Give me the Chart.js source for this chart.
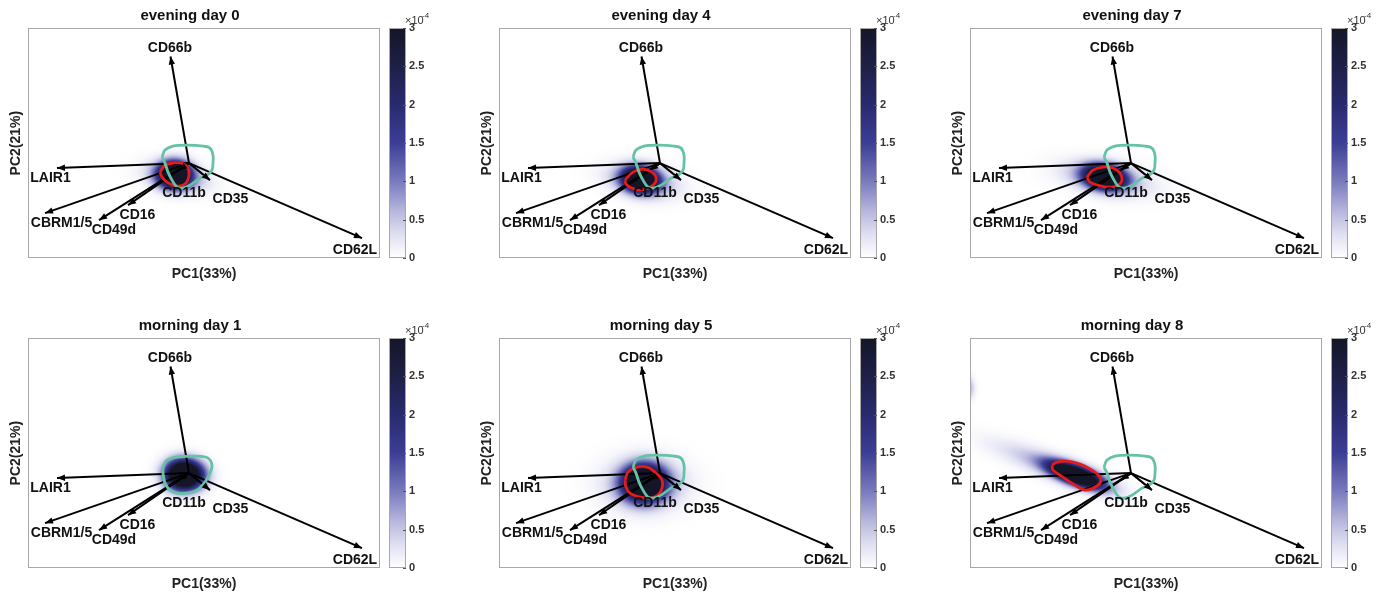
<!DOCTYPE html>
<html>
<head>
<meta charset="utf-8">
<script src="https://cdn.jsdelivr.net/npm/chart.js@4.4.0/dist/chart.umd.min.js"></script>
<style>
  body { margin: 0; background: #fff; }
  #wrap { position: relative; width: 1392px; height: 594px; overflow: hidden; }
  #wrap canvas { position: absolute; }
</style>
</head>
<body>
<div id="wrap"></div>
<script>
const titles = ['evening day 0', 'evening day 4', 'evening day 7', 'morning day 1', 'morning day 5', 'morning day 8'];

// PCA loadings (arrow tips) and where their names sit
const markers = ['CD66b', 'LAIR1', 'CBRM1/5', 'CD49d', 'CD16', 'CD11b', 'CD35', 'CD62L'];
const loadX = [-0.37, -2.64, -2.88, -1.80, -1.22, -0.20, 0.42, 3.46];
const loadY = [2.13, -0.10, -1.00, -1.14, -0.84, -0.14, -0.34, -1.50];
const labelX = [-0.38, -2.77, -2.55, -1.50, -1.03, -0.10, 0.83, 3.32];
const labelY = [2.30, -0.30, -1.20, -1.34, -1.04, -0.60, -0.72, -1.74];

// reference population contour (green)
const greenRef = [[-0.54, 0.12], [-0.48, 0.26], [-0.32, 0.34], [-0.02, 0.36], [0.28, 0.34], [0.42, 0.30], [0.48, 0.16],
  [0.48, 0], [0.46, -0.14], [0.36, -0.24], [0.22, -0.30], [0.02, -0.44], [-0.14, -0.50], [-0.24, -0.48],
  [-0.34, -0.34], [-0.42, -0.18], [-0.48, 0]];
const greenDay1 = [[-0.52, 0.12], [-0.44, 0.26], [-0.24, 0.32], [0.16, 0.34], [0.38, 0.30], [0.46, 0.16], [0.42, 0],
  [0.32, -0.18], [0.16, -0.34], [-0.04, -0.40], [-0.24, -0.40], [-0.38, -0.34], [-0.48, -0.20], [-0.52, 0]];

// sample contour (red) per panel
const redEve0 = [[-0.58, -0.18], [-0.48, -0.04], [-0.32, 0], [-0.14, 0], [-0.02, -0.10], [0, -0.24], [-0.06, -0.40],
  [-0.18, -0.46], [-0.32, -0.44], [-0.44, -0.38], [-0.54, -0.28]];
const redEve4 = [[-0.70, -0.34], [-0.54, -0.18], [-0.34, -0.12], [-0.16, -0.18], [-0.08, -0.28], [-0.10, -0.40],
  [-0.24, -0.50], [-0.44, -0.54], [-0.60, -0.48], [-0.68, -0.42]];
const redEve7 = [[-0.88, -0.28], [-0.76, -0.14], [-0.56, -0.08], [-0.36, -0.10], [-0.22, -0.20], [-0.18, -0.34],
  [-0.26, -0.44], [-0.46, -0.48], [-0.66, -0.44], [-0.82, -0.38]];
const redMor1 = [];
const redMor5 = [[-0.70, -0.14], [-0.64, 0.02], [-0.46, 0.12], [-0.26, 0.12], [-0.10, 0.02], [0.04, -0.14], [0.04, -0.30],
  [-0.04, -0.44], [-0.20, -0.50], [-0.40, -0.48], [-0.60, -0.40], [-0.68, -0.28]];
const redMor8 = [[-1.58, 0.16], [-1.48, 0.22], [-1.28, 0.24], [-1.02, 0.18], [-0.78, 0.06], [-0.62, -0.08], [-0.62, -0.20],
  [-0.76, -0.30], [-0.92, -0.34], [-1.12, -0.24], [-1.36, -0.08], [-1.56, 0.06]];

// density components: [cx, cy, sx, sy, angleDeg, peak (x1e-4)]
const densEve0 = [[-0.29, -0.23, 0.21, 0.17, 0, 5], [-0.25, -0.28, 0.40, 0.18, -10, 0.9]];
const densEve4 = [[-0.39, -0.33, 0.23, 0.16, -10, 5], [-0.35, -0.36, 0.45, 0.20, -10, 0.9]];
const densEve7 = [[-0.53, -0.28, 0.26, 0.15, -10, 5], [-0.50, -0.30, 0.55, 0.20, -10, 0.9]];
const densMor1 = [[-0.14, -0.03, 0.22, 0.19, 0, 5], [0.06, -0.05, 0.22, 0.18, 0, 1.6]];
const densMor5 = [[-0.32, -0.20, 0.27, 0.23, 0, 5], [-0.30, -0.22, 0.50, 0.32, 0, 0.9]];
const densMor8 = [[-1.10, -0.04, 0.38, 0.12, -20, 5], [-1.60, 0.15, 0.80, 0.16, -20, 0.6], [-3.25, 1.70, 0.08, 0.14, 0, 0.7]];

const redSets = [redEve0, redEve4, redEve7, redMor1, redMor5, redMor8];
const greenSets = [greenRef, greenRef, greenRef, greenDay1, greenRef, greenRef];
const densSets = [densEve0, densEve4, densEve7, densMor1, densMor5, densMor8];

const cbTicksMax = 3;

const FONT = '"Liberation Sans", Arial, Helvetica, sans-serif';
const cmapStops = [[0, 255, 255, 255], [0.1, 224, 224, 242], [0.2, 184, 184, 222], [0.33, 122, 124, 190],
  [0.5, 60, 62, 150], [0.67, 40, 42, 110], [0.83, 30, 32, 72], [1, 20, 22, 40]];

function cmap(v) {
  const t = Math.max(0, Math.min(1, v / cbTicksMax));
  for (let i = 1; i < cmapStops.length; i++) {
    const a = cmapStops[i - 1], b = cmapStops[i];
    if (t <= b[0]) {
      const f = (t - a[0]) / (b[0] - a[0]);
      return [a[1] + f * (b[1] - a[1]), a[2] + f * (b[2] - a[2]), a[3] + f * (b[3] - a[3])];
    }
  }
  return cmapStops[cmapStops.length - 1].slice(1);
}

function density(comps, x, y) {
  let s = 0;
  comps.forEach(([cx, cy, sx, sy, ang, amp]) => {
    const th = ang * Math.PI / 180;
    const dx = x - cx, dy = y - cy;
    const u = dx * Math.cos(th) + dy * Math.sin(th);
    const v = -dx * Math.sin(th) + dy * Math.cos(th);
    s += amp * Math.exp(-0.5 * (u * u / (sx * sx) + v * v / (sy * sy)));
  });
  return s;
}

const densityPlugin = {
  id: 'density',
  beforeDatasetsDraw(chart) {
    const comps = chart.options.plugins.density.comps;
    const { left, top, right, bottom } = chart.chartArea;
    const l = Math.round(left), t = Math.round(top);
    const w = Math.round(right) - l, h = Math.round(bottom) - t;
    const img = chart.ctx.createImageData(w, h);
    const xs = chart.scales.x, ys = chart.scales.y;
    for (let j = 0; j < h; j++) {
      const yv = ys.getValueForPixel(t + j + 0.5);
      for (let i = 0; i < w; i++) {
        const xv = xs.getValueForPixel(l + i + 0.5);
        const c = cmap(density(comps, xv, yv));
        const k = (j * w + i) * 4;
        img.data[k] = c[0]; img.data[k + 1] = c[1]; img.data[k + 2] = c[2]; img.data[k + 3] = 255;
      }
    }
    chart.ctx.putImageData(img, l, t);
  }
};

const biplotPlugin = {
  id: 'biplot',
  afterDatasetsDraw(chart) {
    const ctx = chart.ctx, xs = chart.scales.x, ys = chart.scales.y;
    const ox = xs.getPixelForValue(0), oy = ys.getPixelForValue(0);
    ctx.save();
    ctx.fillStyle = '#000';
    markers.forEach((m, i) => {
      const px = xs.getPixelForValue(loadX[i]), py = ys.getPixelForValue(loadY[i]);
      const a = Math.atan2(py - oy, px - ox);
      const len = 8, hw = 3.2;
      ctx.beginPath();
      ctx.moveTo(px, py);
      ctx.lineTo(px - len * Math.cos(a) + hw * Math.sin(a), py - len * Math.sin(a) - hw * Math.cos(a));
      ctx.lineTo(px - len * Math.cos(a) - hw * Math.sin(a), py - len * Math.sin(a) + hw * Math.cos(a));
      ctx.closePath();
      ctx.fill();
    });
    ctx.font = 'bold 14px ' + FONT;
    ctx.fillStyle = '#111';
    ctx.textAlign = 'center';
    ctx.textBaseline = 'middle';
    markers.forEach((m, i) => {
      ctx.fillText(m, xs.getPixelForValue(labelX[i]), ys.getPixelForValue(labelY[i]));
    });
    const { left, top, right, bottom } = chart.chartArea;
    ctx.strokeStyle = '#a8a8a8';
    ctx.lineWidth = 1;
    ctx.strokeRect(Math.round(left) + 0.5, Math.round(top) + 0.5, Math.round(right - left) - 1, Math.round(bottom - top) - 1);
    ctx.restore();
  }
};

const colorbarPlugin = {
  id: 'colorbar',
  afterDatasetsDraw(chart) {
    const ctx = chart.ctx, ys = chart.scales.y;
    const { left, top, right, bottom } = chart.chartArea;
    ctx.save();
    ctx.strokeStyle = '#a8a8a8';
    ctx.lineWidth = 1;
    ctx.strokeRect(Math.round(left) + 0.5, Math.round(top) + 0.5, Math.round(right - left) - 1, Math.round(bottom - top) - 1);
    ctx.strokeStyle = '#555';
    ys.ticks.forEach(tk => {
      const p = Math.round(ys.getPixelForValue(tk.value)) + 0.5;
      ctx.beginPath();
      ctx.moveTo(right - 3, p); ctx.lineTo(right, p);
      ctx.stroke();
    });
    ctx.fillStyle = '#333';
    ctx.textAlign = 'left';
    ctx.textBaseline = 'alphabetic';
    ctx.font = '11px ' + FONT;
    ctx.fillText('\u00d710', right - 1, top - 4);
    ctx.font = '8px ' + FONT;
    ctx.fillText('-4', right + 16, top - 10);
    ctx.restore();
  }
};

function pts(arr) {
  const d = arr.map(([x, y]) => ({ x, y }));
  if (d.length) d.push({ ...d[0] });
  return d;
}

const wrap = document.getElementById('wrap');

function makeCanvas(left, top, w, h) {
  const c = document.createElement('canvas');
  c.width = w; c.height = h;
  c.style.left = left + 'px'; c.style.top = top + 'px';
  c.style.width = w + 'px'; c.style.height = h + 'px';
  wrap.appendChild(c);
  return c;
}

titles.forEach((title, p) => {
  const col = p % 3, row = Math.floor(p / 3);
  const ox = col * 471, oy = row * 310;

  const datasets = markers.map((m, i) => ({
    label: m, order: 3,
    data: [{ x: 0, y: 0 }, { x: loadX[i], y: loadY[i] }],
    showLine: true, borderColor: '#000', borderWidth: 2, pointRadius: 0
  }));
  datasets.push({
    label: 'sample', order: 2, data: pts(redSets[p]), showLine: true, borderColor: '#e41a1c',
    borderWidth: 2.8, pointRadius: 0, tension: 0.35
  });
  datasets.push({
    label: 'reference', order: 1, data: pts(greenSets[p]), showLine: true, borderColor: '#66c2a5',
    borderWidth: 2.8, pointRadius: 0, tension: 0.35
  });

  new Chart(makeCanvas(ox, oy, 382, 285), {
    type: 'scatter',
    data: { datasets },
    plugins: [densityPlugin, biplotPlugin],
    options: {
      responsive: false, animation: false, events: [],
      layout: { padding: { right: 2 } },
      plugins: {
        legend: { display: false }, tooltip: { enabled: false },
        density: { comps: densSets[p] },
        title: { display: true, text: title, color: '#111', font: { family: FONT, size: 15, weight: 'bold' }, padding: { top: 7, bottom: 3 } }
      },
      scales: {
        x: {
          type: 'linear', min: -3.22, max: 3.82,
          ticks: { display: false }, grid: { display: false, drawTicks: false }, border: { display: false },
          title: { display: true, text: 'PC1(33%)', color: '#222', font: { family: FONT, size: 14, weight: 'bold' }, padding: { top: 8, bottom: 2 } }
        },
        y: {
          type: 'linear', min: -1.9, max: 2.7,
          ticks: { display: false }, grid: { display: false, drawTicks: false }, border: { display: false },
          title: { display: true, text: 'PC2(21%)', color: '#222', font: { family: FONT, size: 14, weight: 'bold' }, padding: { top: 7.6, bottom: 3.6 } }
        }
      }
    }
  });

  new Chart(makeCanvas(ox + 385, oy, 60, 290), {
    type: 'bar',
    data: {
      labels: [''],
      datasets: [{
        data: [[0, cbTicksMax]], barPercentage: 1, categoryPercentage: 1, borderWidth: 0,
        backgroundColor: ctx => {
          const area = ctx.chart.chartArea;
          if (!area) return '#000';
          const g = ctx.chart.ctx.createLinearGradient(0, area.bottom, 0, area.top);
          cmapStops.forEach(s => g.addColorStop(s[0], `rgb(${s[1]},${s[2]},${s[3]})`));
          return g;
        }
      }]
    },
    plugins: [colorbarPlugin],
    options: {
      responsive: false, animation: false, events: [],
      layout: { padding: { left: 4, top: 28, bottom: 32, right: 9 } },
      plugins: { legend: { display: false }, tooltip: { enabled: false } },
      scales: {
        x: { display: false },
        y: {
          position: 'right', min: 0, max: cbTicksMax,
          afterFit: s => { s.width = 30; },
          ticks: { stepSize: 0.5, padding: 3, color: '#333', font: { family: FONT, size: 11, weight: 'bold' }, callback: v => String(v) },
          grid: { display: false, drawTicks: false }, border: { display: false }
        }
      }
    }
  });
});
</script>
</body>
</html>
